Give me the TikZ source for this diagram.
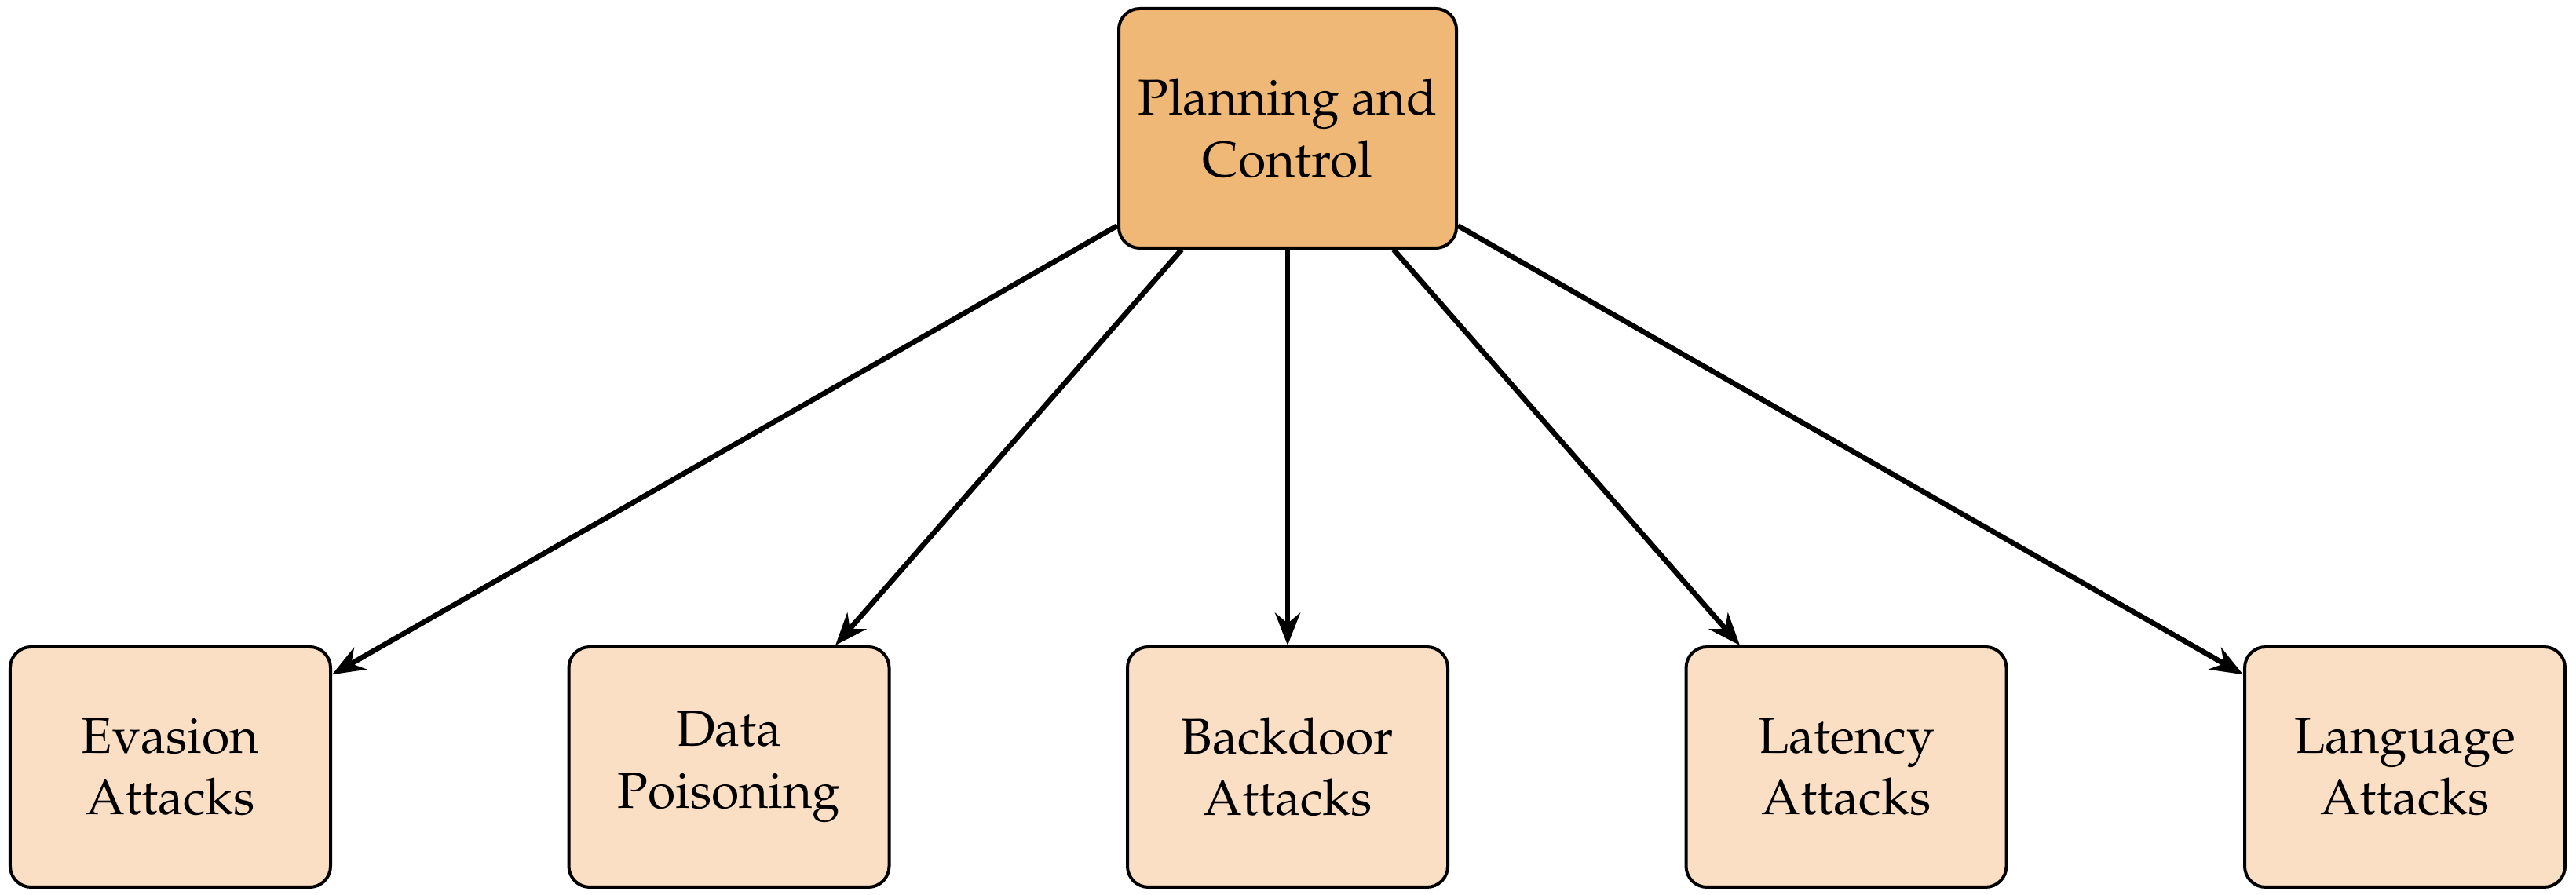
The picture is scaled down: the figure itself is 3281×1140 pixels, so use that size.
\documentclass[tikz,border=0pt]{standalone}
\usepackage[T1]{fontenc}
\usepackage{mathpazo}
\usetikzlibrary{arrows.meta}
\definecolor{topfill}{RGB}{240,184,118}
\definecolor{botfill}{RGB}{251,223,196}
\tikzset{
  box/.style={draw=black, line width=0.6pt, rounded corners=4pt, align=center,
    font=\fontsize{9.64}{11.8}\selectfont, inner sep=2pt},
  topbox/.style={box, fill=topfill, minimum width=64.5pt, minimum height=45.75pt},
  botbox/.style={box, fill=botfill, minimum width=61.2pt, minimum height=45.9pt},
  conn/.style={line width=1pt, -{Stealth[length=6.2pt,width=4.8pt,inset=2pt]}}
}
\begin{document}
\begin{tikzpicture}[x=0.15pt,y=-0.15pt]
\useasboundingbox (0,0) rectangle (3281,1140);
\node[topbox] (pc) at (1640,163.5) {Planning and\\Control};
\node[botbox] (ev) at (217,977) {Evasion\\Attacks};
\node[botbox] (dp) at (928.5,977) {Data\\Poisoning};
\node[botbox] (bd) at (1640,977) {Backdoor\\Attacks};
\node[botbox] (la) at (2351.5,977) {Latency\\Attacks};
\node[botbox] (lg) at (3063,977) {Language\\Attacks};
\foreach \t in {ev,dp,bd,la,lg}
  \draw[conn] (pc) -- (\t);
\end{tikzpicture}
\end{document}
